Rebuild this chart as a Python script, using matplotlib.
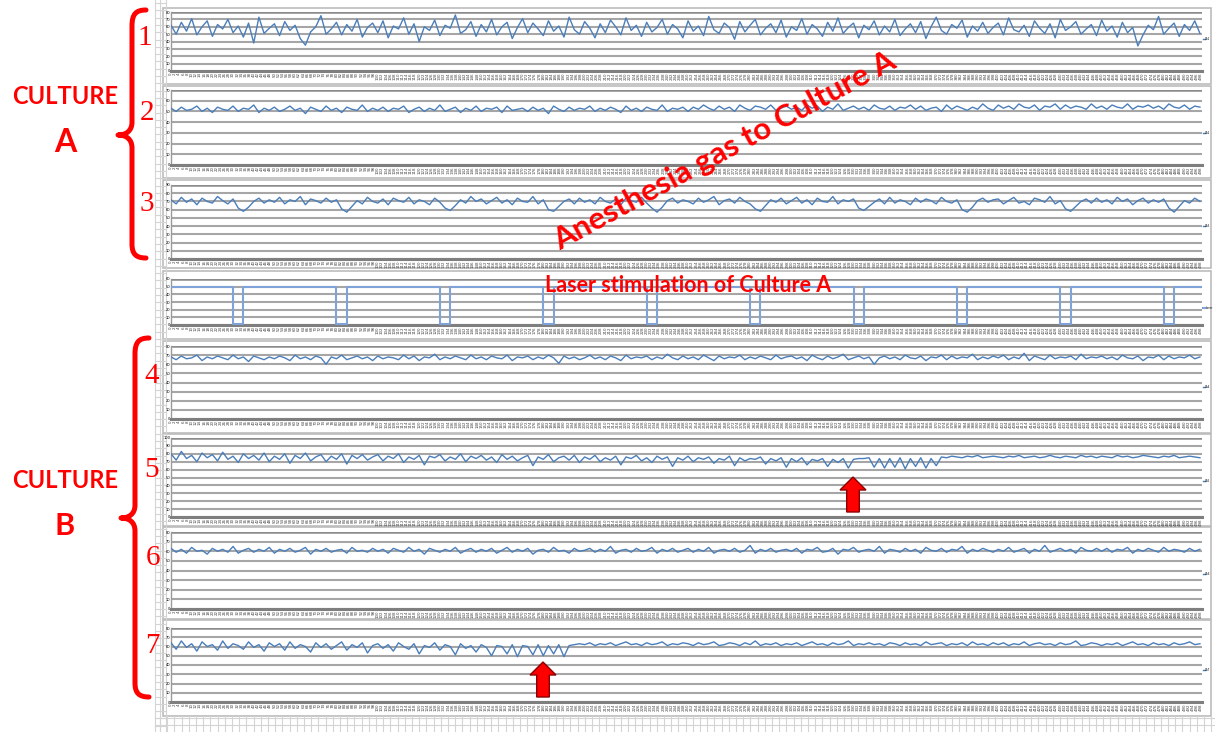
import matplotlib.pyplot as plt
import numpy as np
from matplotlib.path import Path
from matplotlib.patches import PathPatch, Polygon, Rectangle

W, H = 1215, 732

# recording time (s), one sample every 5 s
t = np.arange(0, 1000, 5)

# channel traces (uV)
ch1 = [62, 50, 66, 54, 71, 49, 60, 68, 47, 63, 57, 70, 52, 61, 46, 65, 38, 73, 51, 58,
       64, 48, 67, 55, 62, 44, 35, 53, 60, 75, 50, 57, 66, 49, 63, 54, 70, 46, 59, 65,
       52, 68, 45, 61, 57, 72, 50, 64, 40, 60, 55, 69, 48, 62, 58, 76, 51, 56, 67, 47,
       63, 53, 70, 49, 60, 66, 44, 59, 71, 52, 65, 57, 48, 68, 54, 61, 46, 73, 56, 50,
       67, 58, 45, 64, 52, 69, 60, 49, 72, 55, 62, 47, 66, 53, 59, 70, 50, 63, 57, 45,
       68, 54, 61, 48, 74, 56, 51, 65, 59, 43, 67, 53, 62, 70, 49, 58, 64, 52, 69, 46,
       60, 55, 71, 50, 63, 57, 47, 66, 54, 72, 51, 59, 65, 45, 62, 56, 68, 49, 61, 53,
       70, 48, 57, 64, 52, 67, 44, 60, 73, 55, 50, 63, 58, 69, 46, 61, 54, 66, 51, 59,
       65, 49, 72, 56, 53, 62, 47, 68, 58, 51, 64, 45, 70, 55, 60, 67, 50, 57, 63, 48,
       69, 54, 61, 46, 66, 52, 59, 34, 49, 62, 56, 74, 50, 58, 65, 47, 63, 55, 68, 51]
ch2 = [53, 50, 54, 51, 52, 55, 50, 53, 49, 54, 52, 51, 55, 50, 53, 52, 56, 49, 53, 51,
       54, 50, 52, 55, 51, 53, 48, 54, 52, 50, 55, 51, 53, 49, 54, 52, 51, 56, 50, 53,
       51, 54, 50, 53, 52, 55, 49, 52, 54, 50, 53, 51, 56, 50, 52, 54, 49, 53, 51, 55,
       50, 53, 52, 54, 49, 55, 51, 52, 53, 50, 54, 51, 53, 48, 55, 52, 50, 54, 51, 53,
       52, 55, 50, 53, 51, 54, 52, 49, 55, 51, 53, 50, 54, 52, 51, 56, 50, 53, 52, 54,
       50, 54, 52, 56, 53, 51, 55, 52, 54, 50, 56, 53, 51, 55, 54, 52, 56, 51, 53, 55,
       52, 54, 51, 56, 53, 55, 50, 54, 52, 57, 51, 53, 55, 52, 54, 51, 56, 53, 52, 55,
       51, 54, 53, 56, 52, 55, 51, 53, 54, 50, 56, 52, 55, 53, 51, 54, 52, 57, 53, 51,
       56, 53, 55, 52, 57, 54, 53, 56, 51, 55, 54, 57, 52, 56, 53, 55, 54, 52, 57, 53,
       55, 52, 56, 54, 53, 57, 52, 55, 54, 56, 53, 55, 52, 57, 54, 53, 56, 52, 55, 54]
ch3 = [72, 67, 75, 69, 73, 66, 74, 70, 68, 76, 71, 67, 73, 62, 58, 63, 70, 74, 68, 72,
       69, 75, 67, 72, 70, 76, 66, 73, 71, 68, 74, 69, 72, 61, 57, 64, 71, 67, 75, 70,
       68, 73, 66, 74, 71, 69, 75, 67, 72, 70, 66, 74, 69, 62, 59, 65, 72, 68, 76, 70,
       73, 67, 71, 75, 68, 72, 66, 74, 70, 69, 76, 67, 72, 60, 58, 64, 70, 73, 67, 74,
       69, 72, 67, 75, 70, 68, 73, 66, 74, 71, 69, 75, 68, 62, 57, 63, 71, 74, 68, 72,
       70, 67, 74, 69, 72, 76, 66, 71, 73, 68, 75, 70, 67, 61, 58, 65, 72, 69, 74, 67,
       71, 75, 68, 72, 66, 74, 70, 69, 76, 67, 72, 70, 73, 62, 59, 64, 69, 73, 67, 75,
       68, 72, 70, 66, 74, 69, 73, 71, 67, 75, 70, 68, 72, 60, 57, 63, 71, 74, 69, 72,
       73, 67, 71, 75, 68, 70, 66, 74, 72, 69, 76, 67, 71, 61, 58, 64, 70, 73, 68, 74,
       69, 72, 67, 75, 70, 73, 66, 71, 74, 68, 72, 69, 73, 62, 57, 64, 71, 68, 74, 70]
ch4 = [68, 65, 69, 66, 67, 70, 64, 68, 66, 69, 67, 65, 70, 66, 68, 63, 69, 67, 65, 68,
       66, 69, 67, 64, 70, 66, 68, 65, 69, 67, 60, 68, 66, 70, 65, 67, 69, 66, 68, 64,
       69, 66, 68, 67, 65, 70, 66, 69, 64, 68, 67, 71, 65, 68, 66, 69, 67, 65, 70, 66,
       68, 65, 69, 67, 66, 70, 64, 68, 67, 69, 65, 68, 66, 70, 67, 61, 69, 66, 68, 65,
       67, 70, 66, 68, 65, 69, 67, 64, 70, 66, 68, 67, 69, 65, 68, 66, 71, 67, 65, 69,
       66, 68, 65, 70, 67, 64, 69, 66, 68, 67, 70, 65, 68, 66, 69, 67, 65, 70, 66, 68,
       69, 66, 68, 64, 70, 67, 65, 69, 66, 68, 71, 65, 67, 69, 66, 68, 60, 67, 69, 66,
       68, 65, 70, 67, 66, 69, 64, 68, 67, 70, 65, 69, 66, 68, 67, 71, 65, 68, 66, 69,
       67, 70, 65, 68, 66, 72, 64, 69, 67, 65, 70, 66, 68, 67, 69, 65, 71, 66, 68, 67,
       69, 66, 68, 65, 70, 67, 66, 69, 64, 68, 67, 70, 65, 69, 66, 68, 67, 70, 66, 68]
ch5 = [80, 72, 83, 74, 78, 70, 81, 75, 79, 71, 82, 73, 77, 69, 80, 74, 78, 72, 81, 70,
       77, 73, 80, 68, 78, 74, 81, 71, 76, 79, 70, 77, 73, 80, 67, 78, 74, 79, 72, 76,
       79, 71, 77, 74, 80, 69, 76, 73, 78, 66, 77, 75, 79, 71, 76, 73, 80, 70, 77, 74,
       78, 72, 76, 69, 79, 73, 77, 71, 75, 78, 65, 76, 73, 79, 70, 75, 77, 72, 78, 69,
       76, 73, 78, 70, 75, 72, 77, 66, 76, 74, 78, 71, 75, 69, 77, 73, 76, 64, 75, 72,
       77, 70, 75, 73, 76, 68, 74, 72, 77, 65, 75, 71, 74, 73, 76, 67, 74, 71, 75, 63,
       74, 70, 75, 66, 73, 71, 74, 64, 73, 69, 74, 62, 73, 74, 74, 75, 63, 74, 62, 74,
       63, 75, 61, 74, 64, 75, 62, 74, 65, 76, 75, 77, 76, 75, 77, 76, 78, 75, 76, 77,
       76, 75, 77, 76, 78, 75, 76, 77, 75, 76, 78, 76, 75, 77, 76, 75, 78, 76, 77, 75,
       77, 76, 75, 78, 76, 77, 75, 76, 78, 77, 76, 75, 77, 76, 78, 75, 76, 77, 76, 75]
ch6 = [63, 59, 62, 58, 64, 60, 61, 57, 63, 60, 62, 59, 65, 58, 61, 63, 59, 62, 60, 64,
       58, 62, 60, 63, 59, 61, 64, 57, 62, 60, 63, 59, 61, 62, 58, 64, 60, 61, 59, 63,
       60, 62, 58, 63, 61, 59, 64, 60, 62, 57, 63, 61, 59, 62, 60, 64, 58, 61, 63, 59,
       62, 60, 63, 58, 61, 64, 59, 62, 60, 63, 57, 61, 62, 59, 64, 60, 61, 58, 63, 60,
       61, 63, 59, 62, 60, 65, 58, 61, 62, 59, 63, 60, 61, 64, 58, 62, 60, 63, 59, 61,
       63, 59, 62, 60, 64, 58, 61, 62, 60, 63, 59, 61, 66, 58, 62, 60, 63, 59, 61, 62,
       60, 63, 58, 62, 61, 64, 59, 60, 63, 57, 62, 61, 64, 59, 61, 62, 60, 65, 58, 62,
       61, 59, 63, 60, 62, 58, 64, 61, 60, 63, 59, 62, 61, 65, 58, 62, 60, 63, 61, 59,
       62, 60, 64, 59, 61, 63, 58, 62, 60, 66, 59, 61, 63, 60, 62, 58, 64, 61, 60, 63,
       60, 63, 59, 62, 61, 64, 58, 62, 60, 63, 61, 59, 64, 60, 62, 61, 59, 63, 60, 62]
ch7 = [64, 57, 66, 59, 63, 55, 65, 60, 62, 56, 66, 58, 63, 61, 57, 65, 59, 62, 55, 64,
       60, 63, 56, 65, 58, 62, 60, 54, 64, 59, 63, 57, 61, 65, 56, 62, 59, 64, 53, 61,
       63, 58, 62, 55, 64, 60, 57, 63, 52, 61, 59, 64, 56, 62, 60, 51, 63, 58, 61, 54,
       62, 59, 50, 61, 60, 52, 62, 49, 61, 60, 51, 62, 50, 61, 52, 62, 49, 61, 62, 63,
       62, 64, 61, 63, 62, 64, 61, 63, 65, 62, 63, 61, 64, 62, 63, 65, 61, 63, 62, 64,
       63, 61, 64, 62, 63, 65, 61, 62, 64, 63, 61, 64, 62, 66, 61, 63, 62, 64, 61, 63,
       62, 64, 61, 63, 65, 62, 63, 61, 64, 62, 63, 66, 61, 63, 62, 64, 62, 63, 61, 64,
       63, 61, 64, 62, 63, 61, 65, 62, 63, 64, 61, 63, 62, 64, 61, 65, 62, 63, 61, 64,
       62, 64, 61, 63, 62, 65, 61, 63, 64, 62, 63, 61, 64, 62, 63, 66, 61, 62, 64, 63,
       61, 63, 62, 64, 61, 63, 65, 62, 63, 61, 64, 62, 63, 61, 64, 62, 63, 65, 62, 63]

# laser pulses: the trace drops to low while the laser is on
laser_on = [60, 160, 260, 360, 460, 560, 660, 760, 860, 960]
laser_width = 10
laser_high = 50
laser_low = 1

lt, lv = [0], [laser_high]
for s in laser_on:
    lt += [s, s, s + laser_width, s + laser_width]
    lv += [laser_high, laser_low, laser_low, laser_high]
lt.append(997)
lv.append(laser_high)

# panel: (name, x, y, plot top px, plot bottom px, gridlines, legend y)
panels = [
    ('Ch1', t, ch1, 12, 71, 8, 0.55),
    ('Ch2', t, ch2, 90, 165, 7, 0.43),
    ('Ch3', t, ch3, 185, 259, 9, 0.45),
    ('Laser', lt, lv, 279, 325, 6, 0.37),
    ('Ch4', t, ch4, 346, 419, 8, 0.44),
    ('Ch5', t, ch5, 438, 517, 10, 0.45),
    ('Ch6', t, ch6, 532, 609, 8, 0.45),
    ('Ch7', t, ch7, 628, 702, 8, 0.43),
]
frames = [(8, 84), (86, 178), (180, 268), (271, 339), (341, 433),
          (434, 526), (527, 619), (620, 716)]

fig = plt.figure(figsize=(W / 100, H / 100), dpi=100)


def px_axes(x0, y0, x1, y1, **kw):
    return fig.add_axes([x0 / W, 1 - y1 / H, (x1 - x0) / W, (y1 - y0) / H], **kw)


# spreadsheet background
bg = fig.add_axes([0, 0, 1, 1], zorder=0)
bg.set_xlim(0, W)
bg.set_ylim(H, 0)
bg.axis('off')
for y in np.arange(3, H, 7.3):
    bg.plot([155, 166], [y, y], color='#d4d4d4', lw=0.8)
for x in [155, 160, 166]:
    bg.plot([x, x], [0, H], color='#d4d4d4', lw=0.8)
for y in np.arange(718, H, 7.3):
    bg.plot([155, W], [y, y], color='#d4d4d4', lw=0.8)
for x in np.arange(160, W, 7.2):
    bg.plot([x, x], [716, H], color='#d4d4d4', lw=0.8)
for y0, y1 in frames:
    bg.add_patch(Rectangle((163, y0), 1211 - 163, y1 - y0, fill=True,
                           facecolor='white', edgecolor='#bcbcbc', lw=1.2))

xt = np.arange(0, 997, 4)
xl = [str(int(v / 2)) for v in xt]

for name, x, y, top, bot, n, leg_y in panels:
    ax = px_axes(171, top, 1202, bot, zorder=1)
    ax.set_facecolor('white')
    if name == 'Laser':
        ln, = ax.plot(x, y, color='#7fa3d8', lw=1.5, label=name, zorder=3)
    else:
        ln, = ax.plot(x, y, color='#4a7ebb', lw=1.0, label=name, zorder=3)
    ax.set_xlim(0, 997)
    ax.set_ylim(0, 10 * n)
    ax.set_yticks(range(0, 10 * n + 1, 10))
    ax.grid(axis='y', color='#a6a6a6', lw=1.5)
    ax.set_axisbelow(True)
    ax.axhline(10 * n, color='#8c8c8c', lw=1.8, zorder=1)
    for s in ['top', 'right']:
        ax.spines[s].set_visible(False)
    ax.spines['bottom'].set_color('#7f7f7f')
    ax.spines['bottom'].set_linewidth(2.2)
    ax.spines['left'].set_color('#9a9a9a')
    ax.spines['left'].set_linewidth(1.0)
    ax.set_xticks(xt, xl, rotation=90, fontsize=2.9, color='#454545')
    ax.tick_params(axis='x', length=0, pad=1.0)
    ax.tick_params(axis='y', length=0, pad=0.6, labelsize=2.6, labelcolor='black')
    ax.legend([ln], [name], loc='center left', bbox_to_anchor=(1.0, leg_y),
              fontsize=2, frameon=False, handlelength=0.8, borderpad=0,
              handletextpad=0.2, borderaxespad=0.2)

# red annotations
ov = fig.add_axes([0, 0, 1, 1], zorder=5)
ov.set_xlim(0, W)
ov.set_ylim(H, 0)
ov.axis('off')
ov.patch.set_alpha(0)

red = '#ff0000'


def brace(xe, xv, xt_, ytop, ymid, ybot):
    verts = [(xe, ytop), (xe - 10, ytop), (xv, ytop + 4), (xv, ytop + 16),
             (xv, ymid - 13),
             (xv, ymid - 4), (xv - 6, ymid), (xt_, ymid),
             (xv - 6, ymid), (xv, ymid + 4), (xv, ymid + 13),
             (xv, ybot - 14),
             (xv, ybot - 4), (xe - 10, ybot), (xe, ybot)]
    codes = [Path.MOVETO, Path.CURVE4, Path.CURVE4, Path.CURVE4, Path.LINETO,
             Path.CURVE4, Path.CURVE4, Path.CURVE4,
             Path.CURVE4, Path.CURVE4, Path.CURVE4, Path.LINETO,
             Path.CURVE4, Path.CURVE4, Path.CURVE4]
    ov.add_patch(PathPatch(Path(verts, codes), fill=False, edgecolor=red,
                           lw=3.6, capstyle='round', joinstyle='round'))


brace(146, 132, 118, 10, 135, 258)
brace(149, 135, 121, 338, 518, 697)

numbers = [('1', 145, 45), ('2', 147, 120), ('3', 147, 211), ('4', 152, 383),
           ('5', 152, 477), ('6', 153, 565), ('7', 152, 653)]
for s, x, y in numbers:
    ov.text(x, y, s, family='Liberation Serif', fontsize=21, color=red,
            ha='center', va='baseline')

ov.text(65, 104, 'CULTURE', family='Lato', fontweight='bold', fontsize=17,
        color=red, ha='center', va='baseline')
ov.text(65, 152, 'A', family='Lato', fontweight='bold', fontsize=23,
        color=red, ha='center', va='baseline')
ov.text(65, 488, 'CULTURE', family='Lato', fontweight='bold', fontsize=17,
        color=red, ha='center', va='baseline')
ov.text(65, 535, 'B', family='Lato', fontweight='bold', fontsize=22,
        color=red, ha='center', va='baseline')

ov.text(725, 151, 'Anesthesia gas to Culture A', family='Lato',
        fontweight='bold', fontsize=22.5, color=red, rotation=28.5,
        rotation_mode='anchor', ha='center', va='center')
ov.text(545, 292, 'Laser stimulation of Culture A', family='Lato',
        fontweight='bold', fontsize=15.5, color=red, ha='left', va='baseline')


def block_arrow(xc, ytip, ybase, ybot):
    pts = [(xc, ytip), (xc + 13, ybase), (xc + 6.3, ybase), (xc + 6.3, ybot),
           (xc - 6.3, ybot), (xc - 6.3, ybase), (xc - 13, ybase)]
    ov.add_patch(Polygon(pts, closed=True, facecolor=red, edgecolor='#8b0000',
                         lw=1.0))


block_arrow(853, 477, 490, 512)
block_arrow(543, 662, 675, 697)

fig.savefig('out.png', dpi=100)
